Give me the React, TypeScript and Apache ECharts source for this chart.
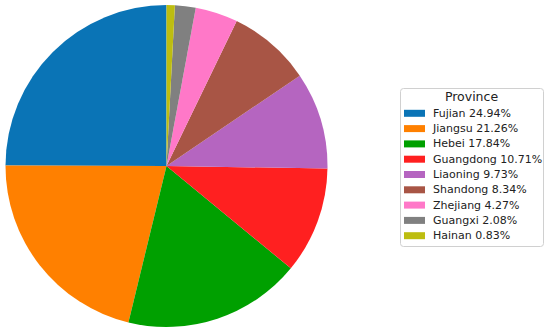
import React, { useEffect, useRef } from "react";
import * as echarts from "echarts";

const provinces = ["Fujian", "Jiangsu", "Hebei", "Guangdong", "Liaoning", "Shandong", "Zhejiang", "Guangxi", "Hainan"];
const shares = [24.94, 21.26, 17.84, 10.71, 9.73, 8.34, 4.27, 2.08, 0.83];
const sliceColors = ["#0a74b6", "#ff8000", "#00a000", "#ff2020", "#b565c0", "#a85545", "#ff78c8", "#808080", "#bdbd10"];
const legendTitle = "Province";

export default function App() {
  const ref = useRef<HTMLDivElement>(null);
  useEffect(() => {
    if (!ref.current) return;
    const chart = echarts.init(ref.current, null, { renderer: "svg" });
    const pctMap: Record<string, string> = {};
    provinces.forEach((p, i) => (pctMap[p] = shares[i].toFixed(2) + "%"));
    chart.setOption({
      animation: false,
      backgroundColor: "#ffffff",
      color: sliceColors,
      graphic: [
        {
          type: "rect",
          z: 0,
          shape: { x: 400.5, y: 88.5, width: 143, height: 158, r: 3 },
          style: { fill: "#fff", stroke: "#d0d0d0", lineWidth: 1 },
        },
        {
          type: "text",
          z: 1,
          x: 471.5,
          y: 96.7,
          style: {
            text: legendTitle,
            fill: "#222",
            font: "12.5px 'DejaVu Sans'",
            align: "center",
            verticalAlign: "middle",
          },
        },
      ],
      legend: {
        orient: "vertical",
        left: 404,
        top: 106.8,
        padding: 0,
        itemWidth: 21,
        itemHeight: 7,
        itemGap: 2.3,
        icon: "rect",
        selectedMode: false,
        z: 5,
        data: provinces,
        formatter: (name: string) => name + " " + pctMap[name],
        textStyle: {
          fontFamily: "DejaVu Sans",
          fontSize: 11,
          lineHeight: 13,
          color: "#222",
          padding: [0, 0, 0, 3],
        },
      },
      series: [
        {
          type: "pie",
          center: [166.5, 166],
          radius: 161,
          startAngle: 90,
          clockwise: false,
          label: { show: false },
          labelLine: { show: false },
          emphasis: { disabled: true },
          itemStyle: { borderWidth: 0 },
          data: provinces.map((p, i) => ({ name: p, value: shares[i] })),
        },
      ],
    });
    return () => chart.dispose();
  }, []);
  return <div ref={ref} style={{ width: 550, height: 332, position: "absolute", left: 0, top: 0 }} />;
}
